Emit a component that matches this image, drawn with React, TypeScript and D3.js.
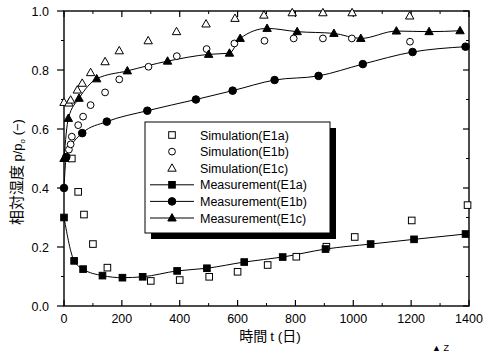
import React, { useEffect, useRef } from 'react';
import * as d3 from 'd3';

// Simulation results (open markers)
const simE1aT = [27, 49, 69, 100, 150, 300, 400, 502, 600, 704, 803, 907, 1005, 1202, 1395];
const simE1aY = [0.5, 0.387, 0.31, 0.21, 0.13, 0.085, 0.088, 0.099, 0.116, 0.139, 0.167, 0.201, 0.234, 0.29, 0.342];

const simE1bT = [17, 23, 27, 49, 66, 92, 142, 191, 292, 390, 493, 589, 693, 794, 895, 995, 1196];
const simE1bY = [0.53, 0.548, 0.574, 0.613, 0.642, 0.681, 0.724, 0.768, 0.811, 0.847, 0.871, 0.89, 0.899, 0.907, 0.907, 0.907, 0.896];

const simE1cT = [0, 17, 23, 46, 63, 92, 142, 191, 291, 389, 491, 591, 691, 789, 895, 996, 1195];
const simE1cY = [0.69, 0.688, 0.698, 0.732, 0.755, 0.791, 0.828, 0.865, 0.899, 0.93, 0.956, 0.975, 0.986, 0.994, 0.994, 0.994, 0.983];

// Measurements (filled markers + line)
const measE1aT = [0, 35, 66, 133, 202, 272, 391, 494, 623, 756, 904, 1060, 1210, 1388];
const measE1aY = [0.3, 0.153, 0.125, 0.103, 0.096, 0.099, 0.119, 0.128, 0.149, 0.166, 0.193, 0.21, 0.226, 0.244];

const measE1bT = [0, 8, 63, 148, 288, 456, 583, 728, 880, 1033, 1205, 1388];
const measE1bY = [0.4, 0.505, 0.586, 0.625, 0.662, 0.7, 0.73, 0.766, 0.78, 0.82, 0.861, 0.879];

const measE1cT = [0, 15, 52, 113, 219, 358, 500, 572, 609, 702, 806, 933, 1026, 1149, 1262, 1369];
const measE1cY = [0.5, 0.636, 0.704, 0.77, 0.797, 0.83, 0.853, 0.857, 0.907, 0.941, 0.93, 0.924, 0.907, 0.932, 0.93, 0.933];

const xTicks = [0, 200, 400, 600, 800, 1000, 1200, 1400];
const yTicks = [0, 0.2, 0.4, 0.6, 0.8, 1.0];

const legendLabels = [
  'Simulation(E1a)',
  'Simulation(E1b)',
  'Simulation(E1c)',
  'Measurement(E1a)',
  'Measurement(E1b)',
  'Measurement(E1c)',
];

const zip = (t: number[], y: number[]) => t.map((v, i) => ({ t: v, y: y[i] }));

export default function App() {
  const svgRef = useRef<SVGSVGElement | null>(null);

  useEffect(() => {
    const svg = d3.select(svgRef.current);
    svg.selectAll('*').remove();

    const left = 64;
    const right = 469;
    const top = 11;
    const bottom = 306;
    const font = '"Liberation Sans", Arial, sans-serif';

    const x = d3.scaleLinear().domain([0, 1400]).range([left, right]);
    const y = d3.scaleLinear().domain([0, 1]).range([bottom, top]);

    const g = svg.append('g');

    // frame
    g.append('rect')
      .attr('x', left)
      .attr('y', top)
      .attr('width', right - left)
      .attr('height', bottom - top)
      .attr('fill', 'none')
      .attr('stroke', '#000')
      .attr('stroke-width', 1.4);

    // x ticks (inward, bottom and top)
    const xMinor = d3.range(100, 1400, 200);
    xTicks.forEach((t) => {
      g.append('line').attr('x1', x(t)).attr('x2', x(t)).attr('y1', bottom).attr('y2', bottom - 6)
        .attr('stroke', '#000').attr('stroke-width', 1.2);
      g.append('line').attr('x1', x(t)).attr('x2', x(t)).attr('y1', top).attr('y2', top + 6)
        .attr('stroke', '#000').attr('stroke-width', 1.2);
      g.append('text')
        .attr('x', x(t))
        .attr('y', 323)
        .attr('text-anchor', 'middle')
        .attr('font-family', font)
        .attr('font-size', 12.5)
        .text(String(t));
    });
    xMinor.forEach((t) => {
      g.append('line').attr('x1', x(t)).attr('x2', x(t)).attr('y1', bottom).attr('y2', bottom - 3)
        .attr('stroke', '#000');
      g.append('line').attr('x1', x(t)).attr('x2', x(t)).attr('y1', top).attr('y2', top + 3)
        .attr('stroke', '#000');
    });

    // y ticks (outward on left, inward on right)
    const yMinor = [0.1, 0.3, 0.5, 0.7, 0.9];
    yTicks.forEach((v) => {
      g.append('line').attr('x1', left - 7).attr('x2', left).attr('y1', y(v)).attr('y2', y(v))
        .attr('stroke', '#000').attr('stroke-width', 1.2);
      g.append('line').attr('x1', right).attr('x2', right - 6).attr('y1', y(v)).attr('y2', y(v))
        .attr('stroke', '#000').attr('stroke-width', 1.2);
      g.append('text')
        .attr('x', 49)
        .attr('y', y(v) + 4.5)
        .attr('text-anchor', 'end')
        .attr('font-family', font)
        .attr('font-size', 12.5)
        .text(v.toFixed(1));
    });
    yMinor.forEach((v) => {
      g.append('line').attr('x1', left - 3).attr('x2', left).attr('y1', y(v)).attr('y2', y(v))
        .attr('stroke', '#000');
      g.append('line').attr('x1', right).attr('x2', right - 3).attr('y1', y(v)).attr('y2', y(v))
        .attr('stroke', '#000');
    });

    // axis titles
    const xt = g.append('text')
      .attr('x', 270)
      .attr('y', 341)
      .attr('text-anchor', 'middle')
      .attr('font-size', 14)
      .attr('font-family', '"Noto Sans CJK JP", sans-serif');
    xt.append('tspan').text('時間 ');
    xt.append('tspan').attr('font-family', font).attr('font-size', 13.5).text('t (');
    xt.append('tspan').text('日');
    xt.append('tspan').attr('font-family', font).attr('font-size', 13.5).text(')');

    const yt = g.append('text')
      .attr('transform', 'translate(22,172) rotate(-90)')
      .attr('text-anchor', 'middle')
      .attr('font-size', 15)
      .attr('font-family', '"Noto Sans CJK JP", sans-serif');
    yt.append('tspan').text('相対湿度 ');
    yt.append('tspan').attr('font-family', font).attr('font-size', 13).text('p/p');
    yt.append('tspan').attr('font-family', font).attr('font-size', 8).attr('dy', 3).text('o');
    yt.append('tspan').attr('font-family', font).attr('font-size', 13).attr('dy', -3).text(' (−)');

    // markers
    const square = (sel: any, cx: number, cy: number, filled: boolean) =>
      sel.append('rect')
        .attr('x', cx - 3.3).attr('y', cy - 3.3).attr('width', 6.6).attr('height', 6.6)
        .attr('fill', filled ? '#000' : '#fff').attr('stroke', '#000').attr('stroke-width', 1);
    const circle = (sel: any, cx: number, cy: number, filled: boolean) =>
      sel.append('circle')
        .attr('cx', cx).attr('cy', cy).attr('r', filled ? 3.8 : 3.4)
        .attr('fill', filled ? '#000' : '#fff').attr('stroke', '#000').attr('stroke-width', 1);
    const tri = (sel: any, cx: number, cy: number, filled: boolean) =>
      sel.append('path')
        .attr('d', `M${cx},${cy - 4.4}L${cx + 4.2},${cy + 3}L${cx - 4.2},${cy + 3}Z`)
        .attr('fill', filled ? '#000' : '#fff').attr('stroke', '#000').attr('stroke-width', 1);

    const line = d3.line<{ t: number; y: number }>()
      .x((d) => x(d.t))
      .y((d) => y(d.y))
      .curve(d3.curveMonotoneX);

    const measSets = [
      { data: zip(measE1aT, measE1aY), mk: square },
      { data: zip(measE1bT, measE1bY), mk: circle },
      { data: zip(measE1cT, measE1cY), mk: tri },
    ];
    measSets.forEach((s) => {
      g.append('path')
        .attr('d', line(s.data))
        .attr('fill', 'none')
        .attr('stroke', '#000')
        .attr('stroke-width', 1);
    });

    const simSets = [
      { data: zip(simE1aT, simE1aY), mk: square },
      { data: zip(simE1bT, simE1bY), mk: circle },
      { data: zip(simE1cT, simE1cY), mk: tri },
    ];
    simSets.forEach((s) => s.data.forEach((d) => s.mk(g, x(d.t), y(d.y), false)));
    measSets.forEach((s) => s.data.forEach((d) => s.mk(g, x(d.t), y(d.y), true)));

    // legend
    const lx = 145;
    const ly = 122;
    const lw = 185;
    const lh = 111;
    g.append('rect').attr('x', lx + 6).attr('y', ly + 6).attr('width', lw).attr('height', lh).attr('fill', '#000');
    g.append('rect').attr('x', lx).attr('y', ly).attr('width', lw).attr('height', lh)
      .attr('fill', '#fff').attr('stroke', '#000').attr('stroke-width', 1);

    const marks = [square, circle, tri, square, circle, tri];
    legendLabels.forEach((label, i) => {
      const ry = 135 + i * 16.6;
      const filled = i >= 3;
      if (filled) {
        g.append('line').attr('x1', 150).attr('x2', 194).attr('y1', ry).attr('y2', ry)
          .attr('stroke', '#000').attr('stroke-width', 1);
      }
      marks[i](g, 172, ry, filled);
      g.append('text')
        .attr('x', 200)
        .attr('y', ry + 4.5)
        .attr('font-family', font)
        .attr('font-size', 12.5)
        .text(label);
    });

    // fragment of the next figure's label at bottom edge
    g.append('text')
      .attr('x', 432)
      .attr('y', 351)
      .attr('font-family', font)
      .attr('font-size', 9)
      .text('▲ Z');
  }, []);

  return (
    <svg
      ref={svgRef}
      width={496}
      height={352}
      style={{ position: 'absolute', left: 0, top: 0, background: '#fff' }}
    />
  );
}
